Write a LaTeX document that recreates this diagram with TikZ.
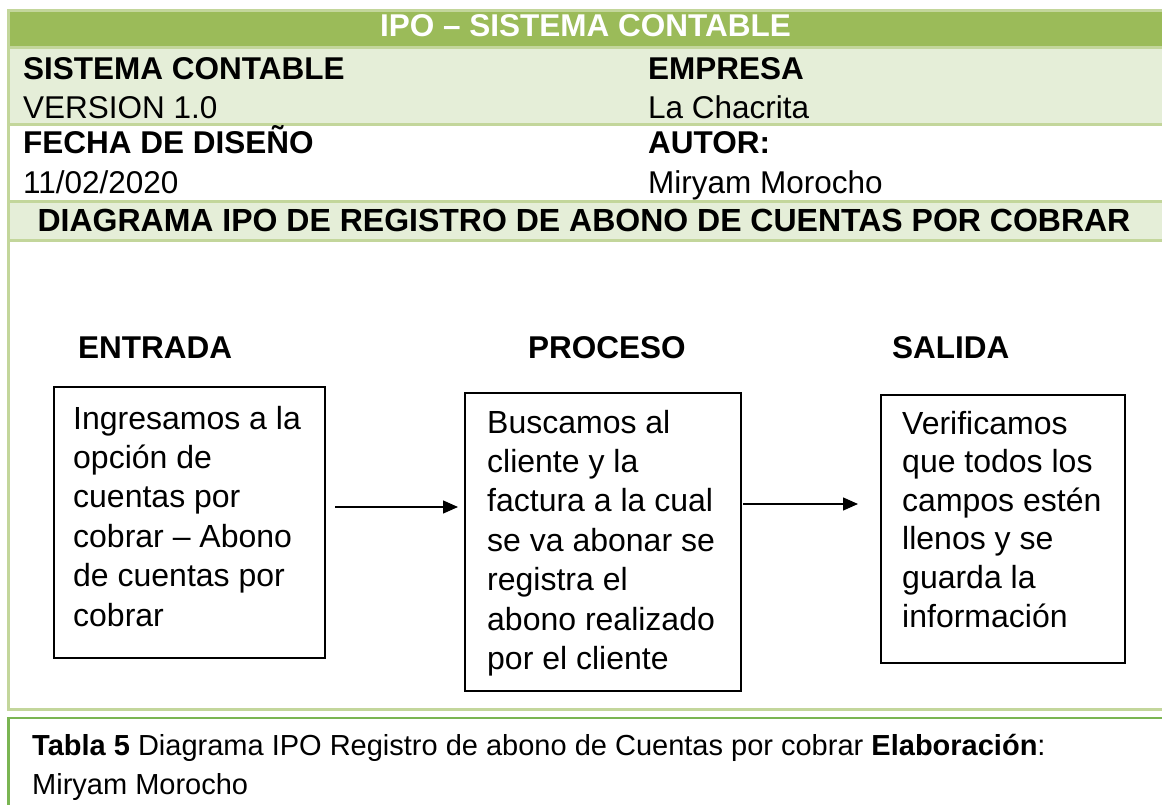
\documentclass[tikz,border=0pt]{standalone}
\usepackage{fontspec}
\setmainfont{Liberation Sans}
\usetikzlibrary{arrows.meta}
\definecolor{gdark}{HTML}{9BBB59}
\definecolor{glight}{HTML}{E5EED8}
\definecolor{gline}{HTML}{C3D69B}
\definecolor{gcap}{HTML}{7AB552}
\begin{document}
\begin{tikzpicture}[x=1pt,y=-1pt,
  hdr/.style={anchor=base west,inner sep=0pt,font=\fontsize{31.5}{36}\selectfont\bfseries},
  val/.style={anchor=base west,inner sep=0pt,font=\fontsize{31.5}{36}\selectfont},
  sec/.style={anchor=base west,inner sep=0pt,font=\fontsize{31.5}{36}\selectfont\bfseries},
  procbox/.style={draw,line width=1.4pt,anchor=north west,inner sep=0pt,outer sep=0pt},
  boxtxt/.style={anchor=base west,inner sep=0pt},
  captxt/.style={anchor=base west,inner sep=0pt,font=\fontsize{29}{39}\selectfont},
  arr/.style={line width=1.4pt,-{Triangle[length=15pt,width=13pt]}},
  gborder/.style={draw=gline,line width=3pt}
]
\useasboundingbox (0,0) rectangle (1162,805);
\clip (0,0) rectangle (1162,805);
% table background
\fill[gdark] (8.5,10.5) rectangle (1175,47.5);
\fill[glight] (8.5,48) rectangle (1175,124.5);
\fill[glight] (8.5,201.5) rectangle (1175,240.5);
\draw[gborder] (8.5,48) -- (1175,48);
\draw[gborder] (8.5,124.5) -- (1175,124.5);
\draw[gborder] (8.5,201.5) -- (1175,201.5);
\draw[gborder] (8.5,240.5) -- (1175,240.5);
\draw[gborder] (8.5,10.5) rectangle (1175,709);
% caption box
\draw[draw=gcap,line width=2.5pt] (8.5,718) rectangle (1175,900);

% header texts
\node[anchor=base,inner sep=0pt,text=white,font=\fontsize{31.5}{36}\selectfont\bfseries] (title) at (585.5,37) {IPO – SISTEMA CONTABLE};
\node[hdr] (sis) at (23,80) {SISTEMA CONTABLE};
\node[val] (ver) at (23,118.5) {VERSION 1.0};
\node[hdr] (emp) at (648,80) {EMPRESA};
\node[val] (cha) at (648,118.5) {La Chacrita};
\node[hdr] (fec) at (23,154) {FECHA DE DISEÑO};
\node[val] (dat) at (23,193.5) {11/02/2020};
\node[hdr] (aut) at (648,154) {AUTOR:};
\node[val] (mir) at (648,193.5) {Miryam Morocho};
\node[anchor=base,inner sep=0pt,font=\fontsize{32}{36}\selectfont\bfseries] (diag) at (584,232) {DIAGRAMA IPO DE REGISTRO DE ABONO DE CUENTAS POR COBRAR};

% section headings
\node[sec] (ent) at (78,358) {ENTRADA};
\node[sec] (pro) at (528,358) {PROCESO};
\node[sec] (sal) at (892,358) {SALIDA};

% boxes
\node[procbox,minimum width=271pt,minimum height=271pt] (b1) at (54,387) {};
\node[procbox,minimum width=276pt,minimum height=298pt] (b2) at (465,393) {};
\node[procbox,minimum width=244pt,minimum height=268pt] (b3) at (881,395) {};

\node[boxtxt] (t1) at (73,429) {\parbox[t]{250pt}{\fontsize{32}{39.4}\selectfont Ingresamos a la\\opción de\\cuentas por\\cobrar – Abono\\de cuentas por\\cobrar}};
\node[boxtxt] (t2) at (487,433) {\parbox[t]{250pt}{\fontsize{32}{39.4}\selectfont Buscamos al\\cliente y la\\factura a la cual\\se va abonar se\\registra el\\abono realizado\\por el cliente}};
\node[boxtxt] (t3) at (902,434) {\parbox[t]{220pt}{\fontsize{32}{38.6}\selectfont Verificamos\\que todos los\\campos estén\\llenos y se\\guarda la\\información}};

% arrows
\draw[arr,shorten >=17pt] ([xshift=10pt,yshift=15.5pt]b1.east) -- ([xshift=10pt,yshift=15.5pt]b1.east -| b2.west);
\draw[arr,shorten >=25pt] ([xshift=2pt,yshift=38pt]b2.east) -- ([xshift=2pt,yshift=38pt]b2.east -| b3.west);

% caption
\node[captxt] (cap1) at (32,755) {\textbf{Tabla 5} Diagrama IPO Registro de abono de Cuentas por cobrar \textbf{Elaboración}:};
\node[captxt] (cap2) at (32,794) {Miryam Morocho};
\end{tikzpicture}
\end{document}
